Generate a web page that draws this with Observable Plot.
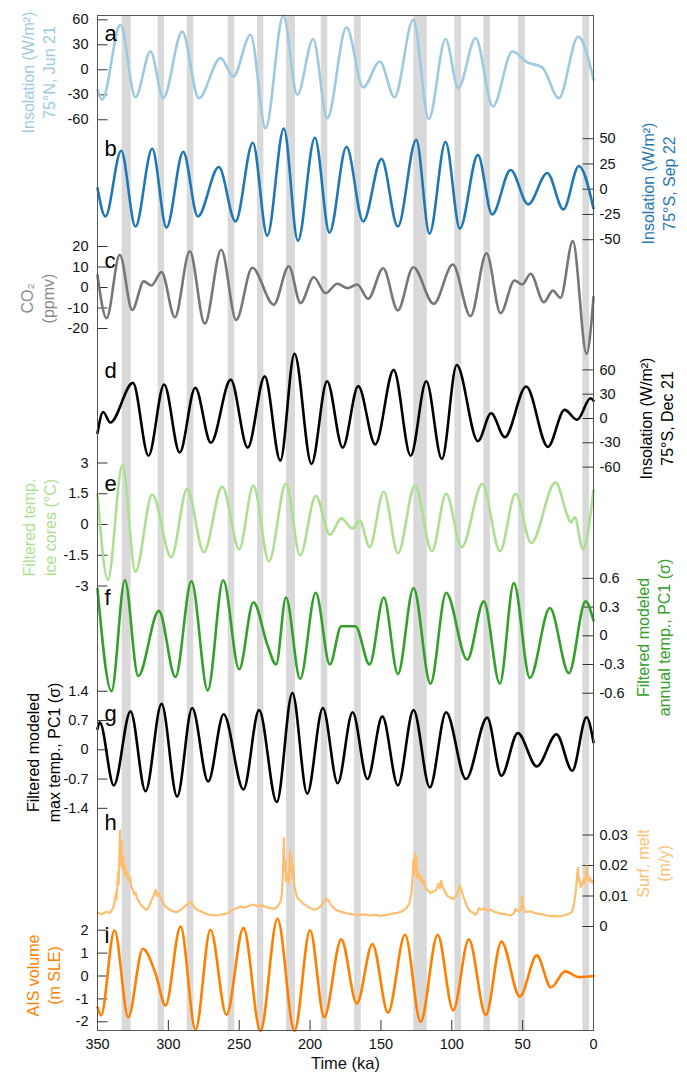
<!DOCTYPE html>
<html><head><meta charset="utf-8">
<script src="https://cdn.jsdelivr.net/npm/d3@7"></script>
<script src="https://cdn.jsdelivr.net/npm/@observablehq/plot@0.6"></script>
<style>body{margin:0;background:#fff;font-family:"Liberation Sans",Arial,sans-serif}</style>
</head><body><div id="chart"></div><script>
// ---------- data ----------
const TIME_TICKS = [350, 300, 250, 200, 150, 100, 50, 0];
const BAR_START = [332.6, 307.2, 286.7, 257.8, 237.1, 216.6, 192.1, 168.6, 126.8, 97.8, 77.4, 52.9, 7.5];
const BAR_END   = [326.2, 302.7, 282.0, 253.1, 232.6, 210.3, 187.5, 163.9, 117.3, 93.1, 72.7, 48.1, 2.8];

// a: insolation 75N Jun 21 (W/m2)
const insolN_Jun21 = [[350,-24],[346.7,-36],[333.8,54],[323.2,-33],[312.6,22],[303.6,-34],[290.2,46],[278.5,-34],[263.2,14],[254.2,-8],[242,42],[231.4,-70],[218.9,65],[209,-30],[197.8,37],[187.9,-58],[174.3,51],[162.5,-21],[150.8,10],[140.4,-33],[127.2,60],[116.2,-59],[104.4,37],[95.4,-22],[83.2,38],[71,-44],[57.3,22],[46.7,9],[36.2,3],[24.4,-34],[10.8,40],[0,-12]];
// b: insolation 75S Sep 22
const insolS_Sep22 = [[350,1],[344.4,-27],[333.3,38],[323.2,-37],[311.4,40],[301.3,-38],[289.5,37],[279.2,-27],[264.4,22],[252.6,-32],[240.4,46],[230.2,-46],[218.5,60],[208.6,-51],[196.6,51],[186.3,-43],[174.3,42],[162.5,-32],[149.6,30],[138.1,-37],[125.1,49],[115.7,-44],[104.4,47],[94.3,-39],[81.6,34],[71.5,-25],[58.5,19],[46.1,-15],[32.6,16],[21.3,-20],[10.3,23],[0,-19]];
// c: CO2 (ppmv)
const co2 = [[350,6],[343.6,-15],[334.3,16],[325.5,-11],[317.3,3],[311.9,1],[304.8,7.5],[295.4,-14.5],[284.9,17.7],[274.3,-17.7],[262.7,18.4],[252.1,-15.8],[240.8,9.6],[225.6,-8.4],[215,10.4],[206.7,-7.6],[197.4,5],[189.1,-2.8],[180.8,1.8],[173.8,-0.3],[166.7,1.5],[159,-5.5],[148.4,9.4],[138.1,-11.2],[127.2,9.9],[112.7,-8],[99.3,11.2],[86.8,-14],[75.5,16.7],[65.6,-12.5],[55.7,3.4],[50.3,1.5],[44.4,6.7],[35,-7.2],[28.7,-1.5],[23.3,-5],[14.6,22.6],[4.9,-32.3],[0,-4.7]];
// d: insolation 75S Dec 21
const insolS_Dec21 = [[350,-18],[346,8],[341,-5],[325,44],[314,-46],[303,42],[292,-42],[281,38],[270,-30],[256,48],[244,-36],[232,52],[221,-52],[211,80],[199,-56],[188,46],[177,-36],[166,40],[154,-32],[141,60],[129,-46],[118,46],[107,-50],[96.5,66],[81.6,-28],[72.2,6.5],[62.6,-23],[47.5,39.5],[32.2,-35],[20.4,10.7],[11.5,-1.6],[2.1,25],[0,22]];
// e: filtered temp ice cores (degC)
const iceTemp = [[350,1.5],[342.7,-2.7],[332.4,2.9],[323.2,-2.3],[311.4,1.46],[298,-1.6],[286.7,1.74],[275,-1.35],[262,1.85],[250,-1.2],[240,1.9],[229,-1.8],[217,2.0],[207,-1.5],[196,1.4],[186,-0.5],[178,0.3],[170,-0.2],[165,0.2],[158,-1.1],[148,1.6],[138,-1.4],[126,1.9],[114,-1.3],[104,1.5],[93,-1.1],[78.5,1.98],[66,-1.3],[55,1.5],[44,-0.9],[26.8,2.06],[18.5,0.45],[16,0.1],[13.2,0.35],[7.5,-1.2],[0,1.66]];
// f: filtered modeled annual temp PC1 (sigma)
const annualPC1 = [[350,0.49],[340.1,-0.58],[330.7,0.58],[321.3,-0.42],[306.7,0.26],[295,-0.43],[283.7,0.57],[272.2,-0.57],[261.3,0.58],[250,-0.35],[240,0.35],[230,-0.1],[224,-0.3],[217,0.4],[207,-0.45],[196,0.45],[186,-0.3],[178,0.1],[168,0.1],[158,-0.3],[148,0.4],[138,-0.4],[127,0.5],[115,-0.5],[104,0.45],[89.1,-0.25],[77.4,0.36],[66.1,-0.5],[56.2,0.55],[44.9,-0.44],[30.8,0.29],[17.4,-0.39],[5.6,0.36],[0,0.16]];
// g: filtered modeled max temp PC1 (sigma)
const maxPC1 = [[350,0.5],[348.4,0.66],[338.5,-0.85],[326.7,0.92],[316.1,-0.99],[304.8,1.1],[293.8,-1.12],[283.2,1.0],[271.9,-0.76],[261,0.85],[247,-0.95],[236,0.95],[223.5,-1.25],[212.5,1.36],[202,-1.05],[191,1.0],[180.5,-0.8],[170,0.9],[159.5,-0.7],[149,0.8],[138,-0.85],[127,0.95],[115.5,-0.9],[104,0.9],[90,-0.7],[75,0.77],[65,-0.62],[53.4,0.4],[40,-0.4],[26.1,0.37],[15,-0.5],[4.9,0.78],[0,0.18]];
// h: surface melt (m/y)
const surfMelt = [[350,0.0045],[347,0.004],[344,0.0048],[341,0.0045],[339,0.006],[338,0.008],[337,0.011],[336.5,0.009],[335.5,0.018],[335,0.014],[334.5,0.025],[334,0.0315],[333.5,0.02],[333,0.028],[332.5,0.019],[332,0.023],[331,0.017],[330.5,0.02],[330,0.0165],[329,0.018],[328,0.015],[327,0.016],[326,0.013],[325,0.012],[324,0.0105],[323,0.011],[322,0.009],[321,0.0085],[320,0.0075],[318,0.0065],[316,0.0055],[314,0.006],[312,0.0085],[310,0.0105],[309,0.012],[308,0.01],[307,0.011],[305.5,0.0095],[304,0.008],[302,0.0065],[300,0.0058],[297,0.005],[294,0.0047],[291,0.0055],[288,0.0068],[286,0.0075],[284,0.0082],[282,0.0065],[280,0.0055],[277,0.005],[274,0.0042],[270,0.0038],[266,0.0036],[262,0.004],[258,0.0043],[255,0.0055],[252,0.006],[249,0.0065],[246,0.0062],[243,0.0068],[240,0.0072],[237,0.0066],[234,0.007],[231,0.0064],[228,0.006],[225,0.0058],[223,0.0065],[221,0.008],[220,0.01],[219.5,0.014],[219,0.02],[218.5,0.029],[218,0.018],[217.5,0.022],[217,0.015],[216,0.017],[215,0.014],[214.5,0.02],[214,0.025],[213.5,0.018],[213,0.023],[212.5,0.016],[212,0.02],[211,0.013],[210,0.011],[209,0.0095],[207,0.0085],[205,0.0075],[203,0.007],[200,0.006],[197,0.0055],[194,0.006],[191,0.0075],[189,0.0092],[187,0.0085],[185,0.007],[182,0.0055],[178,0.0048],[174,0.0043],[170,0.004],[166,0.0038],[162,0.004],[158,0.0036],[154,0.0038],[150,0.0035],[146,0.0038],[142,0.0042],[138,0.0045],[135,0.005],[132,0.006],[130,0.0075],[128.5,0.011],[128,0.014],[127.5,0.017],[127,0.022],[126.5,0.017],[126,0.024],[125.5,0.019],[125,0.023],[124.5,0.016],[123.5,0.018],[122.5,0.015],[121.5,0.0165],[120.5,0.014],[119.5,0.015],[118.5,0.0125],[117,0.012],[115,0.011],[113,0.0115],[111,0.012],[109.5,0.014],[108.5,0.0125],[107.5,0.015],[106.5,0.013],[105,0.0115],[103,0.01],[101,0.0095],[99,0.009],[97,0.01],[95.5,0.0115],[94.5,0.0135],[93.8,0.0129],[92,0.01],[90,0.0075],[89,0.0063],[87,0.005],[85,0.0045],[83.3,0.0039],[82,0.0045],[80.9,0.006],[79,0.0055],[77,0.006],[75,0.0052],[72.6,0.0055],[70,0.0048],[67,0.0045],[65.6,0.0042],[62,0.004],[58.5,0.0036],[56,0.0045],[55,0.0058],[53,0.005],[51,0.0055],[50.3,0.0098],[49.5,0.006],[48,0.0047],[45,0.005],[42,0.0045],[39.7,0.0042],[36,0.004],[33,0.0036],[30.4,0.0034],[27,0.0035],[24,0.0033],[21,0.0036],[18,0.004],[16,0.0045],[15,0.005],[14,0.007],[13.2,0.009],[12.7,0.0107],[12,0.014],[11.5,0.017],[11,0.0192],[10.5,0.015],[10,0.016],[9.1,0.0129],[8,0.014],[7,0.0155],[6,0.014],[5.5,0.017],[4.9,0.0197],[4.3,0.0165],[3.3,0.015],[2.5,0.016],[1.5,0.0145],[0.8,0.015],[0,0.014]];
// i: AIS volume (m SLE)
const aisVolume = [[350,-1.36],[347.5,-1.72],[338,2.0],[328.3,-1.8],[318,1.19],[309,0.1],[302,-1.29],[291.4,2.16],[280.8,-2.35],[270.3,2.02],[259,-1.7],[247,2.1],[235,-2.4],[223,2.5],[211,-2.4],[200,2.0],[190,-1.8],[178,1.6],[167,-1.2],[156,1.4],[145,-1.6],[133,1.8],[122,-2.0],[110,1.8],[99,-1.5],[88,1.6],[76,-1.7],[65,1.5],[52,-0.9],[40,0.9],[30,-0.5],[20,0.2],[10,-0.05],[0,0]];

const TICKS_A = [-60, -30, 0, 30, 60];
const TICKS_B = [-50, -25, 0, 25, 50];
const TICKS_C = [-20, -10, 0, 10, 20];
const TICKS_D = [-60, -30, 0, 30, 60];
const TICKS_E = [-3, -1.5, 0, 1.5, 3];
const TICKS_F = [-0.6, -0.3, 0, 0.3, 0.6];
const TICKS_G = [-1.4, -0.7, 0, 0.7, 1.4];
const TICKS_H = [0, 0.01, 0.02, 0.03];
const TICKS_I = [-2, -1, 0, 1, 2];

const LETTERS = ["a","b","c","d","e","f","g","h","i"];
const TITLES = [
  "Insolation (W/m²)\n75°N, Jun 21",
  "Insolation (W/m²)\n75°S, Sep 22",
  "CO₂\n(ppmv)",
  "Insolation (W/m²)\n75°S, Dec 21",
  "Filtered temp.\nice cores (°C)",
  "Filtered modeled\nannual temp., PC1 (σ)",
  "Filtered modeled\nmax temp., PC1 (σ)",
  "Surf. melt\n(m/y)",
  "AIS volume\n(m SLE)"
];

// ---------- layout (styling) ----------
const W = 687, H = 1078, MT = 15, MB = 48, ML = 97, MR = 94;
const BOTTOM = H - MB; // pixel y of frame bottom
const panels = [
  {data: insolN_Jun21, ticks: TICKS_A, zero: 69.3, k: 0.833, side: "left", color: "#9ecae1", title: "#9ecae1", letterY: 33, titleY: 72, titleDx: -60},
  {data: insolS_Sep22, ticks: TICKS_B, zero: 188.7, k: 1.01, side: "right", color: "#1f78b4", title: "#1f78b4", letterY: 148, titleY: 183, titleDx: 64},
  {data: co2, ticks: TICKS_C, zero: 287, k: 2.05, side: "left", color: "#777777", title: "#8a8a8a", letterY: 260, titleY: 298, titleDx: -61},
  {data: insolS_Dec21, ticks: TICKS_D, zero: 418, k: 0.81, side: "right", color: "#000000", title: "#000000", letterY: 370, titleY: 418, titleDx: 62},
  {data: iceTemp, ticks: TICKS_E, zero: 524, k: 20.5, side: "left", color: "#addf91", title: "#addf91", letterY: 483, titleY: 527, titleDx: -59},
  {data: annualPC1, ticks: TICKS_F, zero: 635.3, k: 95.7, side: "right", color: "#33a02c", title: "#33a02c", letterY: 597, titleY: 637, titleDx: 59},
  {data: maxPC1, ticks: TICKS_G, zero: 749.3, k: 41.8, side: "left", color: "#000000", title: "#000000", letterY: 713, titleY: 752, titleDx: -55},
  {data: surfMelt, ticks: TICKS_H, zero: 926, k: 3050, side: "right", color: "#fdbf6f", title: "#fdbf6f", letterY: 822, titleY: 863, titleDx: 59},
  {data: aisVolume, ticks: TICKS_I, zero: 975.5, k: 22.9, side: "left", color: "#ff7f00", title: "#ff7f00", letterY: 935, titleY: 975, titleDx: -55}
];
const S = (p, v) => (BOTTOM - p.zero) + v * p.k;
const SP = (py) => BOTTOM - py;

const marks = [];
const bars = BAR_START.map((s, i) => ({x1: s, x2: BAR_END[i]}));
marks.push(Plot.rect(bars, {x1: "x1", x2: "x2", y1: 0, y2: BOTTOM - MT, fill: "#d9d9d9"}));

panels.forEach((p, j) => {
  const left = p.side === "left";
  marks.push(Plot.ruleY(p.ticks, {y: v => S(p, v), x1: left ? 350 : 0, x2: left ? 342.6 : 7.4, stroke: "#333", strokeWidth: 1}));
  marks.push(Plot.text(p.ticks, {y: v => S(p, v), text: v => String(v), frameAnchor: left ? "left" : "right",
    dx: left ? -9 : 6, textAnchor: left ? "end" : "start", fontSize: 14.5, fill: "#111"}));
  marks.push(Plot.line(p.data, {x: d => d[0], y: d => S(p, d[1]), stroke: p.color, strokeWidth: j === 7 ? 2.2 : 2.6,
    strokeLinejoin: "round", curve: j === 7 ? "linear" : "monotone-x"}));
  marks.push(Plot.text([LETTERS[j]], {y: () => SP(p.letterY), text: d => d, frameAnchor: "left", dx: 7, textAnchor: "start", fontSize: 22, fill: "#000"}));
  marks.push(Plot.text([TITLES[j]], {y: () => SP(p.titleY), text: d => d, frameAnchor: left ? "left" : "right", dx: p.titleDx,
    rotate: -90, textAnchor: "middle", lineAnchor: "middle", lineHeight: 1.3, fontSize: 16, fill: p.title}));
});

marks.push(Plot.ruleX(TIME_TICKS.slice(1, -1), {x: d => d, y1: 0, y2: 10, stroke: "#333", strokeWidth: 1}));
marks.push(Plot.axisX(TIME_TICKS, {tickSize: 0, tickPadding: 8, fontSize: 14.5, label: null, fill: "#111"}));
marks.push(Plot.text(["Time (ka)"], {frameAnchor: "bottom", dy: 38, text: d => d, fontSize: 16.5, fill: "#111"}));
marks.push(Plot.frame({stroke: "#555", strokeWidth: 1}));

const chart = Plot.plot({
  width: W, height: H,
  marginTop: MT, marginBottom: MB, marginLeft: ML, marginRight: MR,
  style: {fontFamily: "'Liberation Sans', Arial, sans-serif", background: "#fff", overflow: "visible"},
  x: {domain: [350, 0], axis: null},
  y: {domain: [0, BOTTOM - MT], range: [BOTTOM, MT], axis: null},
  marks
});
document.getElementById("chart").appendChild(chart);
</script></body></html>
